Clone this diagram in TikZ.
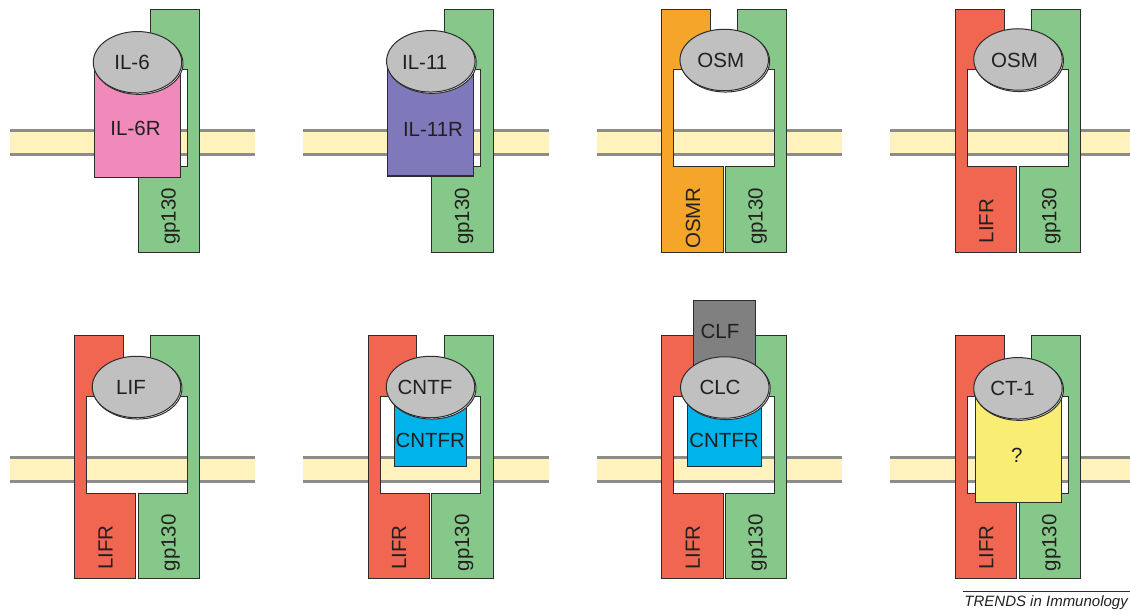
\documentclass[tikz,border=0pt]{standalone}
\usepackage{fontspec}
\setmainfont{Liberation Sans}
\usepackage{tikz}
\usetikzlibrary{shapes.geometric, positioning}
\definecolor{gpgreen}{RGB}{134, 200, 138}
\definecolor{lifrred}{RGB}{241, 102, 80}
\definecolor{osmrorange}{RGB}{245, 166, 42}
\definecolor{ilsixpink}{RGB}{240, 138, 186}
\definecolor{ilelevenblue}{RGB}{127, 121, 187}
\definecolor{cntfrcyan}{RGB}{0, 180, 235}
\definecolor{ctyellow}{RGB}{250, 237, 115}
\definecolor{ligandgray}{RGB}{192, 192, 192}
\definecolor{clfgray}{RGB}{128, 128, 128}
\definecolor{membraneyellow}{RGB}{255, 242, 189}
\definecolor{membranegray}{RGB}{140, 140, 140}
\definecolor{outlinegray}{RGB}{45, 45, 45}
\definecolor{textdark}{RGB}{35, 31, 32}
\tikzset{
  chainbox/.style={draw=outlinegray, line width=1pt, fill=#1},
  chainbox/.default=gpgreen,
  ligand/.style={ellipse, draw=outlinegray, line width=1pt, fill=ligandgray,
              minimum width=88.5pt, minimum height=61.5pt, inner sep=0pt},
  ligshadow/.style={ligand, fill=white},
  lbl/.style={font=\fontsize{20.5}{24}\selectfont, text=textdark, inner sep=0pt},
  vlbl/.style={lbl, rotate=90, anchor=base},
  membraneline/.style={draw=membranegray, line width=3pt},
}

\begin{document}
\begin{tikzpicture}[x=1pt, y=-1pt]
  \useasboundingbox (0,0) rectangle (1130,615);
  % Membranes
  \foreach \cx/\ty in {137/0, 430.6/0, 724.2/0, 1017.8/0,
                       137/326.5, 430.6/326.5, 724.2/326.5, 1017.8/326.5}{
    \fill[membraneyellow] (\cx-127.5,\ty+129) rectangle (\cx+118,\ty+156);
    \draw[membraneline] (\cx-127.5,\ty+130.5) -- (\cx+118,\ty+130.5);
    \draw[membraneline] (\cx-127.5,\ty+154.5) -- (\cx+118,\ty+154.5);
  }
  % gp130 chains
  \foreach \cx/\ty in {137/9.3, 430.6/9.3, 724.2/9.3, 1017.8/9.3,
                       137/335.8, 430.6/335.8, 724.2/335.8, 1017.8/335.8}{
    \filldraw[chainbox=gpgreen] (\cx+62.5,\ty) -- (\cx+13.7,\ty) -- (\cx+13.7,\ty+60.7)
      -- (\cx+50.3,\ty+60.7) -- (\cx+50.3,\ty+157.5) -- (\cx+1.2,\ty+157.5)
      -- (\cx+1.2,\ty+243) -- (\cx+62.5,\ty+243) -- cycle;
    \node[vlbl] (gp\cx\ty) at (\cx+38.5,\ty+207) {gp130};
  }
  % OSMR and LIFR chains
  \foreach \cx/\ty/\col in {724.2/9.3/osmrorange, 1017.8/9.3/lifrred,
                            137/335.8/lifrred, 430.6/335.8/lifrred,
                            724.2/335.8/lifrred, 1017.8/335.8/lifrred}{
    \filldraw[chainbox=\col] (\cx-62.5,\ty) -- (\cx-13.7,\ty) -- (\cx-13.7,\ty+60.7)
      -- (\cx-50.3,\ty+60.7) -- (\cx-50.3,\ty+157.5) -- (\cx-1.2,\ty+157.5)
      -- (\cx-1.2,\ty+243) -- (\cx-62.5,\ty+243) -- cycle;
  }
  \node[vlbl] (osmr) at (700,218) {OSMR};
  \foreach \cx/\ty in {1017.8/9.3, 137/335.8, 430.6/335.8, 724.2/335.8, 1017.8/335.8}{
    \node[vlbl] (lifr\cx\ty) at (\cx-24.4,\ty+211.8) {LIFR};
  }
  % Alpha receptors and CLF
  \filldraw[chainbox=ilsixpink] (94,62.3) rectangle (180,177);
  \filldraw[chainbox=ilelevenblue] (387.7,61.3) rectangle (473.3,176);
  \filldraw[chainbox=cntfrcyan] (394.3,400) rectangle (466.7,466);
  \filldraw[chainbox=cntfrcyan] (687.3,400) rectangle (761,466);
  \filldraw[chainbox=clfgray] (693.3,300.7) rectangle (755,388);
  \filldraw[chainbox=ctyellow] (975.7,388.3) rectangle (1061,502.3);
  % Ligands
  \foreach \nm/\lx/\ly in {il6/137.5/62.3, il11/430.8/61.3, osma/724.2/60,
                           osmb/1018/59.5, lif/136.5/387, cntf/430.5/387,
                           clc/724.8/387.5, ctone/1018/388.3}{
    \node[ligshadow] (\nm s) at (\lx+1.2,\ly+1.3) {};
    \node[ligand] (\nm) at (\lx,\ly) {};
  }
  % Labels
  \node[lbl] (il6t) at (132,62.3) {IL-6};
  \node[lbl] (il6rt) at (135.5,128.7) {IL-6R};
  \node[lbl] (il11t) at (424.7,62.5) {IL-11};
  \node[lbl] (il11rt) at (433,129) {IL-11R};
  \node[lbl] (osmat) at (720.8,60.5) {OSM};
  \node[lbl] (osmbt) at (1014.5,60) {OSM};
  \node[lbl] (lift) at (131,387) {LIF};
  \node[lbl] (cntft) at (425,387) {CNTF};
  \node[lbl] (cntfrat) at (430.3,440.7) {CNTFR};
  \node[lbl] (clft) at (720,331.3) {CLF};
  \node[lbl] (clct) at (720,387.5) {CLC};
  \node[lbl] (cntfrbt) at (724,440) {CNTFR};
  \node[lbl] (ctonet) at (1012.5,388.3) {CT-1};
  \node[lbl] (qt) at (1016.7,455.8) {?};
  % Journal footer
  \draw[outlinegray, line width=0.8pt] (963,591) -- (1135,591);
  \node[anchor=base east, inner sep=0pt, text=textdark,
        font=\fontsize{15}{18}\selectfont\itshape] (trends) at (1128,606.7)
        {TRENDS in Immunology};
\end{tikzpicture}
\end{document}
